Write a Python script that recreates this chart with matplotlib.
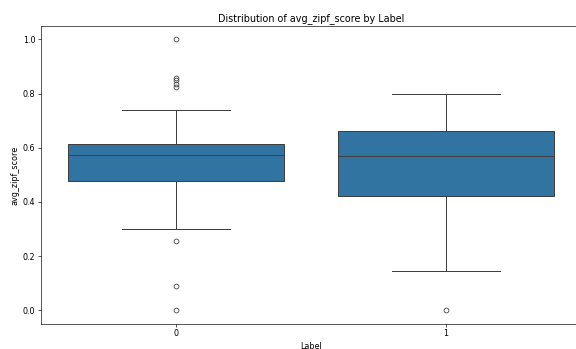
import matplotlib.pyplot as plt

# values (box stats per label)
labels = ["0", "1"]
q1 = [0.478, 0.423]
med = [0.572, 0.569]
q3 = [0.613, 0.661]
whislo = [0.300, 0.144]
whishi = [0.741, 0.799]
fliers = [
    [1.0, 0.859, 0.852, 0.834, 0.825, 0.254, 0.089, 0.0],
    [0.0],
]

stats = []
for i in range(len(labels)):
    stats.append(dict(label=labels[i], q1=q1[i], med=med[i], q3=q3[i],
                      whislo=whislo[i], whishi=whishi[i], fliers=fliers[i]))

fill = "#3274a1"
line = "#3f3f3f"

fig = plt.figure(figsize=(10, 6.06), dpi=57.6)
ax = fig.add_axes([41 / 576, 1 - 323.7 / 349, 540 / 576, (323.7 - 26) / 349])

ax.bxp(stats, positions=range(len(labels)), widths=0.8, patch_artist=True,
       boxprops=dict(facecolor=fill, edgecolor=line, linewidth=1.25),
       medianprops=dict(color=line, linewidth=1.25),
       whiskerprops=dict(color=line, linewidth=1.25),
       capprops=dict(color=line, linewidth=1.25),
       capwidths=0.4,
       flierprops=dict(marker="o", markerfacecolor="none", markeredgecolor=line,
                       markersize=6, linewidth=0))

ax.set_xlim(-0.5, 1.5)
ax.set_ylim(-0.05, 1.05)
ax.set_xticks(range(len(labels)))
ax.set_xticklabels(labels)
ax.set_yticks([0.0, 0.2, 0.4, 0.6, 0.8, 1.0])
ax.set_xlabel("Label")
ax.set_ylabel("avg_zipf_score")
ax.set_title("Distribution of avg_zipf_score by Label", fontsize=12)

fig.savefig("out.png", dpi=57.6)
